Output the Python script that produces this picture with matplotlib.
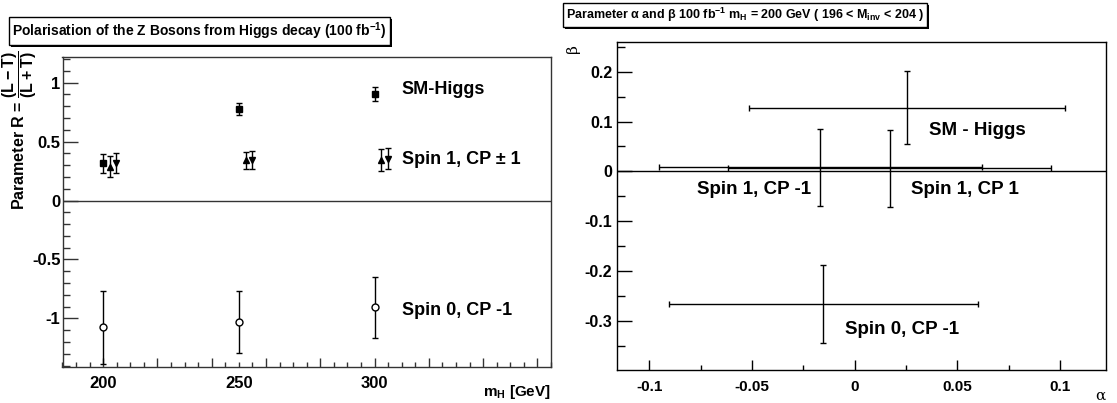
import matplotlib
matplotlib.use("Agg")
import matplotlib.pyplot as plt
import matplotlib.patheffects as pe
from matplotlib.ticker import MultipleLocator, FuncFormatter

# left panel: polarisation parameter R vs Higgs mass
mh = [200, 250, 300]
sm_r = [0.315, 0.775, 0.905]
sm_err = [0.08, 0.05, 0.06]
spin1_up_mh = [202.5, 252.5, 302.5]
spin1_up_r = [0.286, 0.343, 0.342]
spin1_up_err = [0.088, 0.072, 0.092]
spin1_down_mh = [204.7, 254.7, 304.8]
spin1_down_r = [0.315, 0.343, 0.355]
spin1_down_err = [0.085, 0.075, 0.088]
spin0_r = [-1.077, -1.028, -0.906]
spin0_err = [0.31, 0.264, 0.258]

# right panel: alpha / beta at mH = 200 GeV
ab_names = ["SM - Higgs", "Spin 1, CP -1", "Spin 1, CP 1", "Spin 0, CP -1"]
alpha = [0.0254, -0.0167, 0.0171, -0.0152]
alpha_err = [0.077, 0.0786, 0.0786, 0.0753]
beta = [0.128, 0.008, 0.006, -0.2665]
beta_err = [0.0735, 0.078, 0.078, 0.078]

plt.rcParams["font.family"] = ["Liberation Sans", "DejaVu Sans"]
plt.rcParams["font.weight"] = "bold"
plt.rcParams["mathtext.fontset"] = "custom"
plt.rcParams["mathtext.rm"] = "Liberation Sans:bold"
plt.rcParams["mathtext.it"] = "Liberation Sans:bold"
plt.rcParams["mathtext.bf"] = "Liberation Sans:bold"
plt.rcParams["mathtext.default"] = "rm"

W, H = 1117, 403
fig = plt.figure(figsize=(W / 100, H / 100), dpi=100)


def px_box(x0, x1, y0, y1):
    return [x0 / W, 1 - y1 / H, (x1 - x0) / W, (y1 - y0) / H]


def fmt_g(v, pos):
    return f"{round(v, 6) + 0.0:g}"


def boxed_title(x, y, s, size):
    t = fig.text(x / W, 1 - y / H, s, fontsize=size, ha="left", va="center",
                 bbox=dict(boxstyle="square,pad=0.25", fc="white", ec="k", lw=1))
    t.get_bbox_patch().set_path_effects(
        [pe.withSimplePatchShadow(offset=(1.6, -1.6), shadow_rgbFace="k", alpha=1)])
    return t


# ---------------- left ----------------
ax1 = fig.add_axes(px_box(62.5, 551, 56.7, 366.7))
ax1.axhline(0, color="#333333", lw=1)
eb = dict(color="k", ms=5, capsize=2, elinewidth=1, capthick=1, lw=0)
ax1.errorbar(mh, sm_r, yerr=sm_err, fmt="s", **eb)
ax1.errorbar(spin1_up_mh, spin1_up_r, yerr=spin1_up_err, fmt="^", **eb)
ax1.errorbar(spin1_down_mh, spin1_down_r, yerr=spin1_down_err, fmt="v", **eb)
ax1.errorbar(mh, spin0_r, yerr=spin0_err, fmt="o", mfc="white", mec="k", **eb)

ax1.set_xlim(185, 365)
ax1.set_ylim(-1.41, 1.22)
ax1.xaxis.set_major_locator(MultipleLocator(20))
ax1.xaxis.set_minor_locator(MultipleLocator(5))
mh_label = FuncFormatter(lambda v, p: f"{v:g}" if round(v) in mh and abs(v - round(v)) < 1e-6 else "")
ax1.xaxis.set_major_formatter(mh_label)
ax1.xaxis.set_minor_formatter(mh_label)
ax1.yaxis.set_major_locator(MultipleLocator(0.5))
ax1.yaxis.set_minor_locator(MultipleLocator(0.1))
ax1.yaxis.set_major_formatter(FuncFormatter(fmt_g))
ax1.tick_params(which="both", direction="in", top=False, right=False, color="#333333")
ax1.tick_params(axis="y", which="major", length=10.8, width=1, pad=1.5, labelsize=12)
ax1.tick_params(axis="y", which="minor", length=5, width=1)
ax1.tick_params(axis="x", which="major", length=6.5, width=1, pad=7, labelsize=12)
ax1.tick_params(axis="x", which="minor", length=3.6, width=1, pad=7, labelsize=12)
for sp in ax1.spines.values():
    sp.set_color("#333333")
    sp.set_linewidth(1)

ax1.text(310, 0.945, "SM-Higgs", fontsize=13, va="center")
ax1.text(310, 0.35, "Spin 1, CP ± 1", fontsize=13, va="center")
ax1.text(310, -0.934, "Spin 0, CP -1", fontsize=13, va="center")

fig.text(20 / W, 1 - 50 / H, r"Parameter R = $\dfrac{(L-T)}{(L+T)}$",
         rotation=90, ha="center", va="top", fontsize=11.5)
fig.text(551 / W, 1 - 392 / H, r"$m_H$ [GeV]", ha="right", va="center", fontsize=11)
boxed_title(12, 31, r"Polarisation of the Z Bosons from Higgs decay (100 fb$^{-1}$)", 10)

# ---------------- right ----------------
ax2 = fig.add_axes(px_box(617.3, 1106, 41.7, 370))
ax2.axhline(0, color="k", lw=1)
ax2.errorbar(alpha, beta, xerr=alpha_err, yerr=beta_err, fmt="none",
             ecolor="k", elinewidth=1, capsize=2, capthick=1)
ax2.set_xlim(-0.1156, 0.1224)
ax2.set_ylim(-0.398, 0.26)
ax2.xaxis.set_major_locator(MultipleLocator(0.05))
ax2.xaxis.set_minor_locator(MultipleLocator(0.025))
ax2.yaxis.set_major_locator(MultipleLocator(0.1))
ax2.yaxis.set_minor_locator(MultipleLocator(0.05))
ax2.xaxis.set_major_formatter(FuncFormatter(fmt_g))
ax2.yaxis.set_major_formatter(FuncFormatter(fmt_g))
ax2.tick_params(which="both", direction="in", top=False, right=False)
ax2.tick_params(axis="y", which="major", length=10.8, width=1, pad=3.5, labelsize=11.5)
ax2.tick_params(axis="y", which="minor", length=5.5, width=1)
ax2.tick_params(axis="x", which="major", length=7.2, width=1, pad=7, labelsize=11)
ax2.tick_params(axis="x", which="minor", length=3.6, width=1)
for sp in ax2.spines.values():
    sp.set_linewidth(1)

ab_text_pos = [(0.036, 0.082), (-0.0767, -0.036), (0.0274, -0.036), (-0.0049, -0.3166)]
for name, (tx, ty) in zip(ab_names, ab_text_pos):
    ax2.text(tx, ty, name, fontsize=13.5, va="center")

fig.text(573 / W, 1 - 49 / H, "β", rotation=90, ha="center", va="center",
         family="DejaVu Serif", fontweight="normal", fontsize=11)
fig.text(1100 / W, 1 - 396 / H, "α", ha="center", va="center",
         family="DejaVu Serif", fontweight="normal", fontsize=11)
boxed_title(566, 15,
            r"Parameter α and β 100 fb$^{-1}$ m$_H$ = 200 GeV ( 196 < M$_{inv}$ < 204 )", 9)

fig.savefig("out.png", dpi=100)
